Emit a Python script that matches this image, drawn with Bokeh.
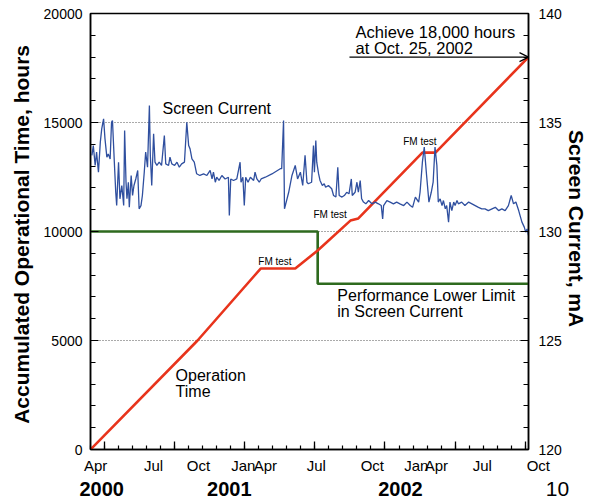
from bokeh.plotting import figure
from bokeh.layouts import column
from bokeh.models import Range1d, LinearAxis, FixedTicker, Label, Arrow, OpenHead
from bokeh.core.properties import value
from bokeh.embed import file_html
from bokeh.resources import INLINE

FONT = "Liberation Sans"

# ---- data (x = days since 1 Apr 2000) ----
red_day = [0, 229, 364, 438, 486, 556, 573, 710, 738, 937]
red_hours = [0, 5000, 8300, 8300, 9130, 10500, 10600, 13620, 13620, 18000]

green_day = [0, 486, 486, 937]
green_ma = [130, 130, 127.6, 127.6]

blue_day = [3, 6, 10, 13, 17, 21, 24, 28, 31, 35, 38, 42, 45, 47, 51, 54, 56, 60, 63, 67,
            71, 73, 76, 78, 81, 83, 87, 90, 93, 97, 101, 104, 108, 111, 115, 118, 122, 126, 128, 131,
            135, 138, 142, 147, 152, 158, 161, 167, 170, 174, 180, 185, 190, 195, 201, 206, 210, 213, 217, 222,
            227, 234, 242, 249, 256, 260, 263, 267, 270, 275, 281, 288, 295, 297, 300, 306, 313, 320, 322, 326,
            329, 332, 337, 342, 349, 352, 356, 361, 365, 374, 388, 406, 409, 413, 415, 424, 431, 438, 443, 449,
            454, 459, 463, 466, 473, 477, 479, 482, 484, 488, 491, 496, 500, 503, 509, 516, 520, 525, 529, 532,
            538, 543, 548, 553, 558, 560, 566, 570, 573, 577, 580, 584, 589, 595, 602, 609, 616, 622, 625, 627,
            634, 641, 648, 655, 662, 670, 677, 684, 689, 695, 702, 705, 710, 714, 719, 724, 729, 733, 737, 741,
            744, 748, 752, 755, 759, 762, 766, 769, 773, 777, 780, 784, 787, 794, 801, 809, 816, 823, 830, 837,
            844, 851, 859, 866, 873, 880, 887, 894, 900, 905, 910, 916, 919, 923, 928, 931, 934, 937]
blue_ma = [133.49, 133.94, 133.03, 133.64, 132.72, 134.10, 134.71, 135.17, 134.25, 133.41, 133.56, 133.33, 135.01, 135.09, 133.18, 131.80, 131.19, 133.18, 131.50, 132.11,
           131.19, 134.63, 132.26, 131.50, 132.26, 131.11, 132.57, 131.65, 132.11, 132.42, 132.80, 131.04, 131.19, 131.65, 132.72, 133.64, 132.95, 135.78, 133.49, 132.11,
           134.48, 133.18, 133.03, 133.18, 133.03, 134.40, 133.10, 133.03, 133.41, 133.10, 133.03, 133.18, 132.95, 133.10, 133.18, 135.01, 133.94, 133.79, 133.33, 133.18,
           132.65, 132.57, 132.64, 132.57, 132.80, 132.41, 132.72, 132.26, 132.49, 132.34, 132.57, 132.41, 132.49, 130.73, 132.41, 132.34, 132.41, 133.18, 132.26, 132.49,
           131.19, 132.49, 132.26, 132.49, 132.34, 132.72, 132.41, 132.26, 132.41, 132.49, 132.64, 132.88, 132.88, 135.09, 131.04, 131.80, 132.57, 133.03, 132.41, 132.72,
           132.11, 133.49, 132.26, 132.19, 132.26, 133.94, 132.72, 134.17, 133.18, 132.64, 132.34, 132.11, 132.19, 132.03, 132.11, 131.96, 131.65, 131.58, 132.95, 131.65,
           131.58, 131.65, 131.80, 131.73, 132.41, 131.65, 131.80, 132.26, 131.80, 132.34, 131.50, 131.35, 131.27, 131.42, 131.27, 131.35, 131.27, 131.19, 130.58, 131.19,
           131.42, 131.35, 131.27, 131.35, 131.27, 131.19, 131.35, 131.19, 131.11, 131.58, 131.35, 131.80, 133.18, 133.87, 132.57, 131.35, 131.80, 132.26, 133.87, 133.03,
           131.35, 131.50, 131.19, 131.42, 131.04, 131.19, 130.43, 131.35, 130.96, 131.35, 131.19, 131.42, 131.27, 131.35, 131.19, 131.35, 131.27, 131.19, 131.11, 131.04,
           131.04, 130.96, 131.04, 131.11, 130.96, 131.04, 130.96, 131.19, 131.65, 131.27, 131.35, 130.96, 130.73, 130.43, 130.20, 129.97, 130.12, 129.82]

month_labels = ["Apr", "Jul", "Oct", "Jan", "Apr", "Jul", "Oct", "Jan", "Apr", "Jul", "Oct"]
month_pos = [11, 135, 231, 327, 374, 483, 603, 697, 740, 838, 958]
year_labels = ["2000", "2001", "2002"]
year_pos = [24, 297, 663]
page_number = "10"
page_number_pos = 999

x_major = [30, 180, 330, 480, 630, 780, 930]
x_minor = list(range(0, 937, 30))
left_major = [0, 5000, 10000, 15000, 20000]
left_minor = list(range(0, 20001, 1000))
right_major = [120, 125, 130, 135, 140]
right_minor = list(range(120, 141, 1))
grid_lines = [5000, 10000, 15000]

# ---- layout geometry (pixels) ----
W = 592
MAIN_H = 457
SUB_H = 42
B_LEFT, B_RIGHT, B_TOP, B_BOTTOM = 90, 64, 13, 8
X0, X1 = 0, 937

p = figure(width=W, height=MAIN_H, x_range=Range1d(X0, X1), y_range=Range1d(0, 20000),
           output_backend="svg", toolbar_location=None,
           min_border_left=B_LEFT, min_border_right=B_RIGHT,
           min_border_top=B_TOP, min_border_bottom=B_BOTTOM)
p.frame_align = False
p.background_fill_color = "white"
p.border_fill_color = "white"
p.outline_line_color = "black"
p.outline_line_width = 1.5

p.xgrid.visible = False
p.ygrid.ticker = FixedTicker(ticks=grid_lines)
p.ygrid.grid_line_color = "#555555"
p.ygrid.grid_line_dash = "1 2"
p.ygrid.grid_line_width = 1

# x axis: ticks only
xa = p.xaxis[0]
xa.ticker = FixedTicker(ticks=x_major, minor_ticks=x_minor)
xa.major_label_overrides = {t: " " for t in x_major}
xa.major_label_text_font_size = "1px"
xa.major_label_standoff = 0
xa.major_tick_in = 8
xa.major_tick_out = 0
xa.minor_tick_in = 4
xa.minor_tick_out = 0
xa.axis_line_width = 1.5
xa.major_tick_line_width = 1.3
xa.minor_tick_line_width = 1.2

# left axis
ya = p.yaxis[0]
ya.ticker = FixedTicker(ticks=left_major, minor_ticks=left_minor)
ya.major_tick_in = 8
ya.major_tick_out = 0
ya.minor_tick_in = 5
ya.minor_tick_out = 0
ya.axis_line_width = 1.5
ya.major_label_text_font = FONT
ya.major_label_text_font_size = "14px"
ya.major_label_text_color = "black"
ya.major_label_standoff = 8
ya.axis_label = "Accumulated Operational Time,  hours"
ya.axis_label_text_font = FONT
ya.axis_label_text_font_style = "bold"
ya.axis_label_text_font_size = "21px"
ya.axis_label_text_color = "black"
ya.axis_label_standoff = 8

# right axis
p.extra_y_ranges = {"sc": Range1d(120, 140)}
ra = LinearAxis(y_range_name="sc", ticker=FixedTicker(ticks=right_major, minor_ticks=right_minor))
ra.major_tick_in = 8
ra.major_tick_out = 0
ra.minor_tick_in = 5
ra.minor_tick_out = 0
ra.axis_line_width = 1.5
ra.major_label_text_font = FONT
ra.major_label_text_font_size = "14px"
ra.major_label_text_color = "black"
ra.major_label_standoff = 10
ra.axis_label = "Screen Current,  mA"
ra.axis_label_text_font = FONT
ra.axis_label_text_font_style = "bold"
ra.axis_label_text_font_size = "21px"
ra.axis_label_text_color = "black"
ra.axis_label_standoff = 0
p.add_layout(ra, "right")

# lines
p.line(green_day, green_ma, y_range_name="sc", line_color="#2e6a1e", line_width=2.6)
p.line(red_day, red_hours, line_color="#e8341c", line_width=2.6)
p.line(blue_day, blue_ma, y_range_name="sc", line_color="#2f4f9f", line_width=1.3)


def lab(x, y, text, size="16px", style="normal", align="left"):
    p.add_layout(Label(x=x, y=y, text=text, text_font=FONT, text_font_size=size,
                       text_font_style=style, text_align=align, text_baseline="middle",
                       text_color="black"))


lab(154, 15640, "Screen Current")
lab(567, 19130, "Achieve 18,000 hours", size="16.5px")
lab(567, 18440, "at Oct. 25, 2002", size="16.5px")
lab(359, 8620, "FM test", size="10px")
lab(477, 10780, "FM test", size="10px")
lab(669, 14130, "FM test", size="10px")
lab(528, 7060, "Performance Lower Limit")
lab(528, 6330, "in Screen Current")
lab(182, 3390, "Operation")
lab(182, 2660, "Time")

p.add_layout(Arrow(end=OpenHead(size=9, line_width=1.2, line_color="black"),
                   x_start=554, y_start=18000, x_end=937, y_end=18000,
                   line_width=1.2, line_color="black"))

# ---- strip under the plot with month / year labels, same day scale ----
frame_w = W - B_LEFT - B_RIGHT
days_per_px = (X1 - X0) / frame_w
sub_lo = X0 - B_LEFT * days_per_px
sub_hi = X1 + B_RIGHT * days_per_px

p2 = figure(width=W, height=SUB_H, x_range=Range1d(sub_lo, sub_hi), y_range=Range1d(SUB_H, 0),
            output_backend="svg", toolbar_location=None, min_border=0)
p2.frame_align = False
p2.outline_line_color = None
p2.background_fill_color = "white"
p2.border_fill_color = "white"
p2.xaxis.visible = False
p2.yaxis.visible = False
p2.grid.visible = False

p2.text(x=month_pos, y=[8] * len(month_pos), text=month_labels, text_font=value(FONT),
        text_font_size="15px", text_align="center", text_baseline="middle", text_color="black")
p2.text(x=year_pos, y=[31] * len(year_pos), text=year_labels, text_font=value(FONT),
        text_font_size="20px", text_font_style="bold", text_align="center",
        text_baseline="middle", text_color="black")
p2.text(x=[page_number_pos], y=[31], text=[page_number], text_font=value(FONT),
        text_font_size="21px", text_align="center", text_baseline="middle", text_color="black")

layout = column(p, p2, spacing=0)
open("out.html", "w").write(file_html(layout, INLINE))
